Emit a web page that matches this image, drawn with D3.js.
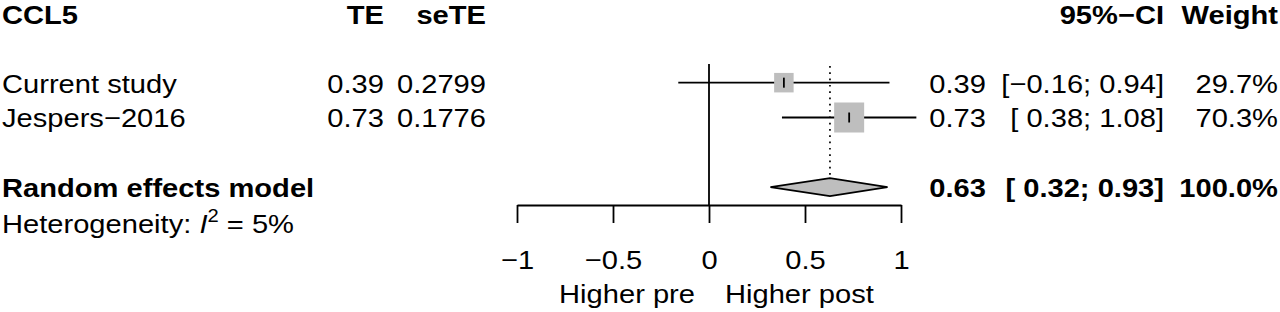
<!DOCTYPE html>
<html>
<head>
<meta charset="utf-8">
<script src="https://cdn.jsdelivr.net/npm/d3@7"></script>
<style>
  body { margin: 0; background: #fff; }
  svg text { font-family: "Liberation Sans", Arial, sans-serif; fill: #000; white-space: pre; }
</style>
</head>
<body>
<div id="chart"></div>
<script>
// chart values
const studies = ["Current study", "Jespers\u22122016"];
const te = [0.39, 0.73];
const seTE = ["0.2799", "0.1776"];
const lower = [-0.16, 0.38];
const upper = [0.94, 1.08];
const weight = [29.7, 70.3];
const pooledLabel = "Random effects model";
const pooled = [0.63, 0.32, 0.93]; // estimate, lower, upper
const heterogeneityI2 = "5%";
const ticks = [-1, -0.5, 0, 0.5, 1];
const leftLabel = "Higher pre";
const rightLabel = "Higher post";

const fmt2 = d3.format(".2f");
function ciText(lo, hi) {
    const f = v => (v < 0 ? "\u2212" + fmt2(-v) : " " + fmt2(v));
    return "[" + f(lo) + "; " + fmt2(hi) + "]";
}

const fs = 26;
const sx = 1.12; // the original glyphs are a bit wider than Liberation Sans

const svg = d3.select("#chart")
    .append("svg")
    .attr("width", 1280)
    .attr("height", 312);

// text helper, x can be a value or a function of the datum
function label(sel, xPos, yPos, anchor, bold) {
    return sel.append("text")
        .attr("x", typeof xPos === "function" ? d => xPos(d) / sx : xPos / sx)
        .attr("y", yPos)
        .attr("transform", `scale(${sx},1)`)
        .attr("text-anchor", anchor)
        .attr("font-size", fs)
        .attr("font-weight", bold ? "bold" : null);
}

const x = d3.scaleLinear().domain([-1, 1]).range([517, 901]);
// row index -> vertical centre
const y = d3.scaleLinear().domain([0, 6]).range([13, 222]);
const side = d3.scaleSqrt().domain([0, 70.3]).range([0, 30]);
const base = 10; // baseline offset from row centre

// headers
const hy = 24;
label(svg, 2, hy, "start", true).text("CCL5");
label(svg, 384, hy, "end", true).text("TE");
label(svg, 486, hy, "end", true).text("seTE");
label(svg, 1164, hy, "end", true).text("95%\u2212CI");
label(svg, 1278, hy, "end", true).text("Weight");

// study rows
const rows = studies.map((s, i) => ({ name: s, te: te[i], se: seTE[i], lo: lower[i], hi: upper[i], w: weight[i], r: i + 2 }));

const rowG = svg.selectAll("g.row").data(rows).enter().append("g").attr("class", "row");
label(rowG, 2, d => y(d.r) + base, "start").text(d => d.name);
label(rowG, 384, d => y(d.r) + base, "end").text(d => fmt2(d.te));
label(rowG, 486, d => y(d.r) + base, "end").text(d => d.se);
label(rowG, 986, d => y(d.r) + base, "end").text(d => fmt2(d.te));
label(rowG, 1164, d => y(d.r) + base, "end").text(d => ciText(d.lo, d.hi));
label(rowG, 1278, d => y(d.r) + base, "end").text(d => d.w.toFixed(1) + "%");

// null line
svg.append("line")
    .attr("x1", x(0)).attr("x2", x(0))
    .attr("y1", 64).attr("y2", 205)
    .attr("stroke", "#000").attr("stroke-width", 1.8);

// pooled estimate dotted line
svg.append("line")
    .attr("x1", x(pooled[0])).attr("x2", x(pooled[0]))
    .attr("y1", 66).attr("y2", y(5) - 11)
    .attr("stroke", "#000").attr("stroke-width", 1.7)
    .attr("stroke-dasharray", "1.7,4.6");

// CI lines, squares, ticks
rowG.append("line")
    .attr("x1", d => x(d.lo)).attr("x2", d => x(d.hi))
    .attr("y1", d => y(d.r)).attr("y2", d => y(d.r))
    .attr("stroke", "#000").attr("stroke-width", 1.8);
rowG.append("rect")
    .attr("x", d => x(d.te) - side(d.w) / 2)
    .attr("y", d => y(d.r) - side(d.w) / 2)
    .attr("width", d => side(d.w)).attr("height", d => side(d.w))
    .attr("fill", "#bebebe");
rowG.append("line")
    .attr("x1", d => x(d.te)).attr("x2", d => x(d.te))
    .attr("y1", d => y(d.r) - 5).attr("y2", d => y(d.r) + 5)
    .attr("stroke", "#000").attr("stroke-width", 1.8);

// pooled row
const py = y(5);
svg.append("polygon")
    .attr("points", [[x(pooled[1]), py], [x(pooled[0]), py - 9], [x(pooled[2]), py], [x(pooled[0]), py + 9]].join(" "))
    .attr("fill", "#bebebe").attr("stroke", "#000").attr("stroke-width", 1.8);
label(svg, 2, py + base, "start", true).text(pooledLabel);
label(svg, 986, py + base, "end", true).text(fmt2(pooled[0]));
label(svg, 1164, py + base, "end", true).text(ciText(pooled[1], pooled[2]));
label(svg, 1278, py + base, "end", true).text(d3.sum(weight).toFixed(1) + "%");

// heterogeneity
const het = label(svg, 2, y(6) + base + 1, "start");
het.append("tspan").text("Heterogeneity: ");
het.append("tspan").attr("font-style", "italic").text("I");
het.append("tspan").attr("dy", -11).attr("font-size", 18).text("2");
het.append("tspan").attr("dy", 11).text(" = " + heterogeneityI2);

// axis
const axis = d3.axisBottom(x)
    .tickValues(ticks)
    .tickFormat(d3.format(""))
    .tickSize(18)
    .tickSizeOuter(0)
    .tickPadding(28);
const ax = svg.append("g").attr("transform", "translate(0,205)").call(axis);
ax.attr("font-family", null).attr("font-size", null);
ax.select(".domain").attr("stroke-width", 1.8);
ax.selectAll(".tick line").attr("stroke-width", 1.8);
ax.selectAll(".tick text")
    .attr("font-size", fs)
    .attr("transform", `scale(${sx},1)`);

label(svg, x(0) - 14, 303, "end").text(leftLabel);
label(svg, x(0) + 16, 303, "start").text(rightLabel);
</script>
</body>
</html>
